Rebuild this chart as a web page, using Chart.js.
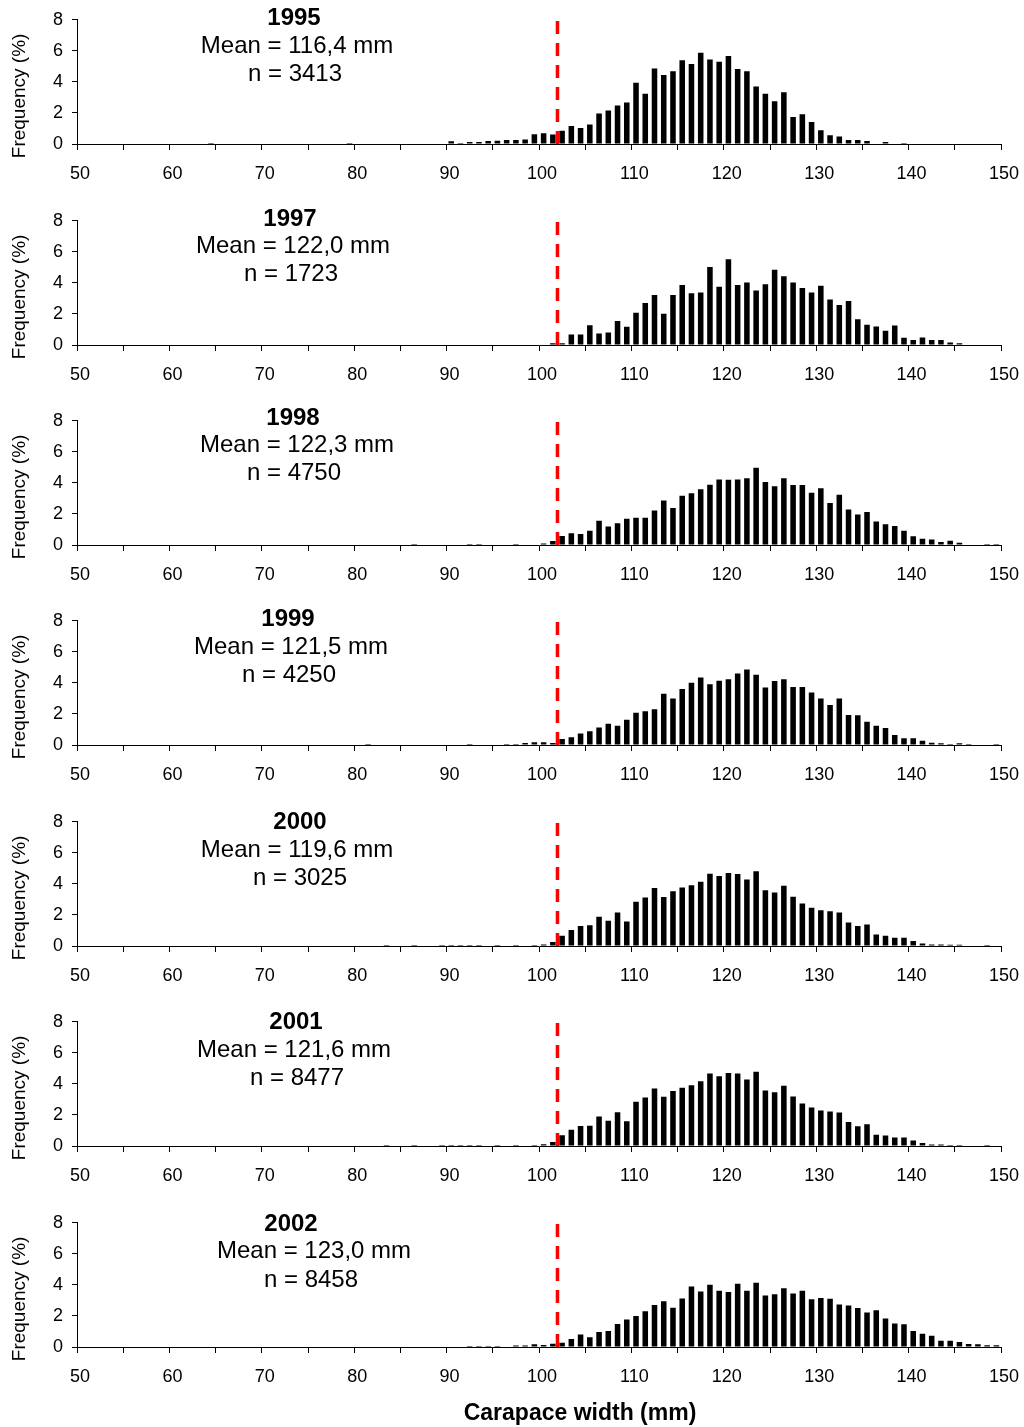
<!DOCTYPE html>
<html>
<head>
<meta charset="utf-8">
<title>Carapace width distributions</title>
<script src="https://cdn.jsdelivr.net/npm/chart.js@4.4.0/dist/chart.umd.min.js"></script>
<style>
  body {
    margin: 0;
    background: #fff;
    width: 1024px;
    height: 1427px;
    position: relative;
    overflow: hidden;
    font-family: "Liberation Sans", Arial, sans-serif;
  }
  .panel { position: absolute; left: 0; width: 1024px; height: 200px; }
  #xTitle {
    position: absolute;
    left: 380px;
    width: 400px;
    top: 1399px;
    text-align: center;
    font-weight: bold;
    font-size: 23px;
    color: #000;
  }
</style>
</head>
<body>
<div id="charts"></div>
<div id="xTitle">Carapace width (mm)</div>

<script>
// ===================================
// Data (frequency %, 1 mm bins starting at 50 mm)
// ===================================
const binStart = 50;
const xTickLabels = [50, 60, 70, 80, 90, 100, 110, 120, 130, 140, 150];
const yTickLabels = [0, 2, 4, 6, 8];
const legalSize = 102;

const years = ["1995", "1997", "1998", "1999", "2000", "2001", "2002"];
const meanWidths = ["116,4", "122,0", "122,3", "121,5", "119,6", "121,6", "123,0"];
const sampleSizes = ["3413", "1723", "4750", "4250", "3025", "8477", "8458"];

const freq1995 = [
  0, 0, 0, 0, 0, 0, 0, 0, 0, 0,                               // 50-59
  0, 0, 0, 0, 0.06, 0, 0, 0, 0, 0,                            // 60-69
  0, 0, 0, 0, 0, 0, 0, 0, 0, 0.06,                            // 70-79
  0, 0, 0, 0, 0, 0, 0, 0, 0, 0,                               // 80-89
  0.17, 0.06, 0.13, 0.13, 0.19, 0.21, 0.25, 0.25, 0.29, 0.63, // 90-99
  0.69, 0.61, 0.86, 1.16, 1.03, 1.26, 1.97, 2.16, 2.48, 2.67, // 100-109
  3.95, 3.24, 4.87, 4.45, 4.68, 5.40, 5.15, 5.88, 5.44, 5.29, // 110-119
  5.67, 4.83, 4.68, 3.70, 3.24, 2.75, 3.34, 1.74, 1.91, 1.41, // 120-129
  0.88, 0.57, 0.48, 0.25, 0.25, 0.19, 0, 0.13, 0, 0.06,       // 130-139
  0, 0, 0, 0, 0, 0, 0, 0, 0, 0                                // 140-149
];
const freq1997 = [
  0, 0, 0, 0, 0, 0, 0, 0, 0, 0,
  0, 0, 0, 0, 0, 0, 0, 0, 0, 0,
  0, 0, 0, 0, 0, 0, 0, 0, 0, 0,
  0, 0, 0, 0, 0, 0, 0, 0, 0, 0,
  0, 0, 0, 0, 0, 0, 0, 0, 0, 0,
  0, 0.12, 0.12, 0.68, 0.68, 1.27, 0.74, 0.80, 1.54, 1.17,
  2.07, 2.71, 3.22, 2.01, 3.22, 3.86, 3.34, 3.38, 5.03, 3.75,
  5.52, 3.86, 4.02, 3.51, 3.92, 4.84, 4.43, 4.02, 3.67, 3.38,
  3.82, 2.93, 2.58, 2.83, 1.66, 1.31, 1.19, 0.92, 1.25, 0.47,
  0.33, 0.49, 0.33, 0.33, 0.16, 0.12, 0, 0, 0, 0
];
const freq1998 = [
  0, 0, 0, 0, 0, 0, 0, 0, 0, 0,
  0, 0, 0, 0, 0, 0, 0, 0, 0, 0,
  0, 0, 0, 0, 0, 0, 0, 0, 0, 0,
  0, 0, 0, 0, 0, 0, 0.06, 0, 0, 0,
  0, 0, 0.06, 0.06, 0, 0, 0, 0.06, 0, 0,
  0.10, 0.25, 0.58, 0.75, 0.71, 0.92, 1.57, 1.19, 1.40, 1.69,
  1.75, 1.75, 2.23, 2.86, 2.38, 3.17, 3.34, 3.59, 3.88, 4.22,
  4.20, 4.22, 4.30, 4.97, 4.05, 3.78, 4.30, 3.86, 3.86, 3.36,
  3.65, 2.71, 3.24, 2.28, 1.96, 2.13, 1.52, 1.34, 1.23, 0.92,
  0.56, 0.40, 0.35, 0.19, 0.27, 0.15, 0, 0, 0.06, 0.06
];
const freq1999 = [
  0, 0, 0, 0, 0, 0, 0, 0, 0, 0,
  0, 0, 0, 0, 0, 0, 0, 0, 0, 0,
  0, 0, 0, 0, 0, 0, 0, 0, 0, 0,
  0, 0.06, 0, 0, 0, 0, 0, 0, 0, 0,
  0, 0, 0.06, 0, 0, 0, 0.06, 0.06, 0.13, 0.17,
  0.17, 0.13, 0.38, 0.50, 0.74, 0.88, 1.13, 1.37, 1.24, 1.62,
  2.08, 2.18, 2.31, 3.30, 3.00, 3.61, 4.01, 4.35, 3.91, 4.14,
  4.24, 4.60, 4.87, 4.52, 3.70, 4.12, 4.24, 3.74, 3.74, 3.38,
  3.00, 2.58, 3.00, 1.93, 1.91, 1.49, 1.24, 1.09, 0.65, 0.44,
  0.44, 0.27, 0.15, 0.11, 0.06, 0.11, 0.06, 0, 0, 0.06
];
const freq2000 = [
  0, 0, 0, 0, 0, 0, 0, 0, 0, 0,
  0, 0, 0, 0, 0, 0, 0, 0, 0, 0,
  0, 0, 0, 0, 0, 0, 0, 0, 0, 0,
  0, 0, 0, 0.06, 0, 0, 0.06, 0, 0, 0.07,
  0.07, 0.07, 0.07, 0.07, 0, 0.07, 0, 0.07, 0, 0.07,
  0.10, 0.25, 0.66, 1.03, 1.29, 1.33, 1.89, 1.62, 2.15, 1.58,
  2.85, 3.12, 3.73, 3.16, 3.53, 3.77, 3.92, 4.14, 4.66, 4.51,
  4.70, 4.64, 4.29, 4.82, 3.59, 3.45, 3.88, 3.18, 2.73, 2.46,
  2.30, 2.24, 2.15, 1.52, 1.29, 1.39, 0.74, 0.66, 0.53, 0.53,
  0.33, 0.16, 0.10, 0.10, 0.08, 0.08, 0, 0, 0.06, 0
];
const freq2001 = [
  0, 0, 0, 0, 0, 0, 0, 0, 0, 0,
  0, 0, 0, 0, 0, 0, 0, 0, 0, 0,
  0, 0, 0, 0, 0, 0, 0, 0, 0, 0,
  0, 0, 0, 0.06, 0, 0, 0.06, 0, 0, 0.07,
  0.07, 0.07, 0.07, 0.07, 0, 0.07, 0, 0.07, 0, 0.07,
  0.12, 0.25, 0.69, 1.04, 1.29, 1.31, 1.90, 1.63, 2.17, 1.60,
  2.85, 3.13, 3.71, 3.17, 3.54, 3.75, 3.92, 4.17, 4.67, 4.50,
  4.71, 4.67, 4.29, 4.79, 3.58, 3.46, 3.88, 3.19, 2.73, 2.48,
  2.29, 2.23, 2.15, 1.54, 1.27, 1.40, 0.73, 0.67, 0.54, 0.54,
  0.35, 0.19, 0.10, 0.10, 0.06, 0.06, 0, 0, 0.06, 0
];
const freq2002 = [
  0, 0, 0, 0, 0, 0, 0, 0, 0, 0,
  0, 0, 0, 0, 0, 0, 0, 0, 0, 0,
  0, 0, 0, 0, 0, 0, 0, 0, 0, 0,
  0, 0, 0, 0, 0, 0, 0, 0, 0, 0,
  0, 0, 0.06, 0.06, 0.06, 0.06, 0, 0.10, 0.10, 0.17,
  0.13, 0.21, 0.27, 0.51, 0.80, 0.63, 0.97, 1.03, 1.48, 1.77,
  2.00, 2.30, 2.70, 2.95, 2.53, 3.12, 3.90, 3.57, 4.01, 3.63,
  3.54, 4.07, 3.63, 4.14, 3.31, 3.40, 3.78, 3.44, 3.63, 3.08,
  3.16, 3.10, 2.74, 2.68, 2.51, 2.22, 2.36, 1.84, 1.52, 1.46,
  1.03, 0.86, 0.72, 0.40, 0.40, 0.32, 0.19, 0.17, 0.11, 0.11
];

const yearFreqs = [freq1995, freq1997, freq1998, freq1999, freq2000, freq2001, freq2002];

// ===================================
// Layout (pixels, per panel)
// ===================================
const panelTops = [0, 201, 401, 601, 802, 1002, 1203];
const labelCenters = [
  [294, 297, 295], [290, 293, 291], [293, 297, 294], [288, 291, 289],
  [300, 297, 300], [296, 294, 297], [291, 314, 311]
];
const labelRows = [
  [18, 46, 74], [18, 45, 73], [17, 44, 72], [18, 46, 74],
  [20, 48, 76], [20, 48, 76], [21, 48, 77]
];

const FONT = '"Liberation Sans", Arial, sans-serif';
Chart.defaults.font.family = FONT;
Chart.defaults.color = "#000";

// ===================================
// Plugin: legal size line, panel text, y title
// ===================================
const panelDecor = {
  id: "panelDecor",
  afterDatasetsDraw(chart, args, opts) {
    const ctx = chart.ctx;
    const xs = chart.scales.x;
    const ys = chart.scales.y;
    ctx.save();
    // dashed limit line
    const px = xs.getPixelForValue(legalSize);
    ctx.strokeStyle = "#ff0000";
    ctx.lineWidth = 3.5;
    ctx.setLineDash([13, 9]);
    ctx.beginPath();
    ctx.moveTo(px, ys.getPixelForValue(0));
    ctx.lineTo(px, ys.getPixelForValue(8.3));
    ctx.stroke();
    ctx.restore();
  },
  afterDraw(chart, args, opts) {
    const ctx = chart.ctx;
    const ys = chart.scales.y;
    ctx.save();
    ctx.fillStyle = "#000";
    ctx.textAlign = "center";
    ctx.textBaseline = "middle";
    ctx.font = "bold 24px " + FONT;
    ctx.fillText(opts.year, opts.cx[0], opts.rows[0]);
    ctx.font = "24px " + FONT;
    ctx.fillText("Mean = " + opts.mean + " mm", opts.cx[1], opts.rows[1]);
    ctx.fillText("n = " + opts.n, opts.cx[2], opts.rows[2]);

    // y axis title
    ctx.font = "19px " + FONT;
    ctx.translate(20, (ys.top + ys.bottom) / 2 + 14);
    ctx.rotate(-Math.PI / 2);
    ctx.fillText("Frequency (%)", 0, 0);
    ctx.restore();
  }
};

// ===================================
// Build panels
// ===================================
const holder = document.getElementById("charts");

yearFreqs.forEach((freqs, i) => {
  const wrap = document.createElement("div");
  wrap.className = "panel";
  wrap.style.top = panelTops[i] + "px";
  const canvas = document.createElement("canvas");
  canvas.width = 1024;
  canvas.height = 200;
  wrap.appendChild(canvas);
  holder.appendChild(wrap);

  const points = freqs.map((v, k) => ({ x: binStart + k + 0.5, y: v }));

  new Chart(canvas.getContext("2d"), {
    type: "bar",
    data: {
      datasets: [
        {
          data: points,
          backgroundColor: "#000",
          borderWidth: 0,
          barPercentage: 0.6,
          categoryPercentage: 1.0
        }
      ]
    },
    plugins: [panelDecor],
    options: {
      responsive: false,
      animation: false,
      devicePixelRatio: 1,
      layout: { padding: { top: 17, right: 23, left: 0, bottom: 0 } },
      plugins: {
        legend: { display: false },
        tooltip: { enabled: false },
        panelDecor: {
          year: years[i],
          mean: meanWidths[i],
          n: sampleSizes[i],
          cx: labelCenters[i],
          rows: labelRows[i]
        }
      },
      scales: {
        x: {
          type: "linear",
          min: 50,
          max: 150,
          offset: false,
          afterFit: (scale) => {
            scale.height = 56;
            scale.paddingLeft = 0;
            scale.paddingRight = 0;
          },
          grid: {
            offset: false,
            drawOnChartArea: false,
            drawTicks: true,
            tickLength: 6,
            color: "#000"
          },
          border: { display: true, color: "#000", width: 1 },
          ticks: {
            stepSize: 5,
            autoSkip: false,
            maxRotation: 0,
            padding: 13,
            labelOffset: 3,
            font: { size: 18 },
            callback: (v) => (xTickLabels.includes(v) ? String(v) : "")
          }
        },
        y: {
          min: 0,
          max: 8,
          afterFit: (scale) => { scale.width = 77; },
          grid: {
            drawOnChartArea: false,
            drawTicks: true,
            tickLength: 5,
            color: "#000"
          },
          border: { display: true, color: "#000", width: 1 },
          ticks: {
            stepSize: 2,
            padding: 9,
            font: { size: 18 },
            callback: (v) => (yTickLabels.includes(v) ? String(v) : "")
          }
        }
      }
    }
  });
});
</script>
</body>
</html>
